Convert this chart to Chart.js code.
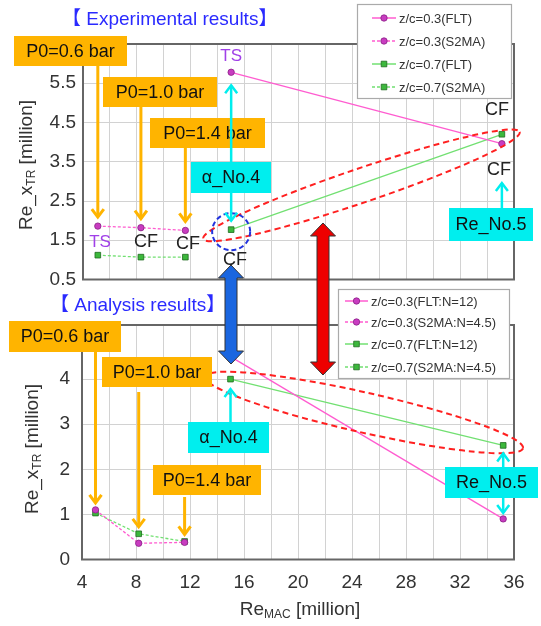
<!DOCTYPE html>
<html lang="en">
<head>
<meta charset="UTF-8">
<title>Re_xTR vs Re_MAC</title>
<script src="https://cdn.jsdelivr.net/npm/chart.js@4.4.0/dist/chart.umd.min.js"></script>
<style>
  body { margin: 0; background: #fff; }
  #wrap { position: relative; width: 541px; height: 626px; }
  canvas { position: absolute; left: 0; top: 0; }
</style>
</head>
<body>
<div id="wrap">
  <canvas id="analysis" width="541" height="626"></canvas>
  <canvas id="experiment" width="541" height="626"></canvas>
</div>
<script>
// experimental results, Re in million
const expX_S2MA = [5.1, 8.3, 11.6];
const expZ03_S2MA = [1.86, 1.82, 1.75];
const expZ07_S2MA = [1.12, 1.07, 1.07];
const expX_FLT = [15.0, 35.1];
const expZ03_FLT = [5.78, 3.96];
const expZ07_FLT = [1.77, 4.20];

// analysis results
const anaX_S2MA = [5.0, 8.2, 11.6];
const anaZ03_S2MA = [1.1, 0.36, 0.38];
const anaZ07_S2MA = [1.03, 0.57, 0.4];
const anaX_FLT = [15.0, 35.2];
const anaZ03_FLT = [4.5, 0.9];
const anaZ07_FLT = [4.0, 2.53];

const expLabels = ['z/c=0.3(FLT)', 'z/c=0.3(S2MA)', 'z/c=0.7(FLT)', 'z/c=0.7(S2MA)'];
const anaLabels = ['z/c=0.3(FLT:N=12)', 'z/c=0.3(S2MA:N=4.5)', 'z/c=0.7(FLT:N=12)', 'z/c=0.7(S2MA:N=4.5)'];

const xTicks = [4, 8, 12, 16, 20, 24, 28, 32, 36];
const expYTicks = [0.5, 1.5, 2.5, 3.5, 4.5, 5.5, 6.5];
const anaYTicks = [0, 1, 2, 3, 4, 5];

const FONT = '"Liberation Sans", Arial, "Noto Sans CJK JP", sans-serif';
const PINK = '#ff5cd0', GREEN = '#72e072';
const ORANGE = '#ffb400', CYAN = '#00eeee';

function series(label, xs, ys, pink, dashed) {
  return {
    label: label,
    data: xs.map((x, i) => ({ x: x, y: ys[i] })),
    showLine: true,
    borderColor: pink ? PINK : GREEN,
    borderWidth: 1.3,
    borderDash: dashed ? [3, 2] : [],
    pointStyle: pink ? 'circle' : 'rect',
    pointRadius: pink ? 3.2 : 4,
    pointBackgroundColor: pink ? '#c83cc0' : '#3cb83c',
    pointBorderColor: pink ? '#8a1f86' : '#1f6a1f',
    pointBorderWidth: 0.8
  };
}

// ---- drawing helpers ----
function box(ctx, x, y, w, h, fill, text) {
  ctx.fillStyle = fill;
  ctx.fillRect(x, y, w, h);
  ctx.fillStyle = '#111';
  ctx.font = '18px ' + FONT;
  ctx.textAlign = 'center';
  ctx.textBaseline = 'middle';
  ctx.fillText(text, x + w / 2, y + h / 2 + 1);
}

function head(ctx, x, y, dir, dx, dy) {
  ctx.beginPath();
  ctx.moveTo(x - dx, y - dir * dy);
  ctx.lineTo(x, y);
  ctx.lineTo(x + dx, y - dir * dy);
  ctx.stroke();
}

// vertical arrow from y1 to y2, head at y2 (and at y1 if both)
function arrow(ctx, x, y1, y2, color, width, both) {
  ctx.save();
  ctx.strokeStyle = color;
  ctx.lineWidth = width;
  ctx.lineCap = 'butt';
  ctx.beginPath();
  ctx.moveTo(x, y1);
  ctx.lineTo(x, y2);
  ctx.stroke();
  const dir = y2 > y1 ? 1 : -1;
  head(ctx, x, y2, dir, 6, 8);
  if (both) head(ctx, x, y1, -dir, 6, 8);
  ctx.restore();
}

function fatArrow(ctx, x, y1, y2, fill) {
  const hw = 12.5, sw = 6, hl = 13;
  ctx.save();
  ctx.beginPath();
  ctx.moveTo(x, y1);
  ctx.lineTo(x + hw, y1 + hl); ctx.lineTo(x + sw, y1 + hl);
  ctx.lineTo(x + sw, y2 - hl); ctx.lineTo(x + hw, y2 - hl);
  ctx.lineTo(x, y2);
  ctx.lineTo(x - hw, y2 - hl); ctx.lineTo(x - sw, y2 - hl);
  ctx.lineTo(x - sw, y1 + hl); ctx.lineTo(x - hw, y1 + hl);
  ctx.closePath();
  ctx.fillStyle = fill;
  ctx.fill();
  ctx.strokeStyle = '#333';
  ctx.lineWidth = 1;
  ctx.stroke();
  ctx.restore();
}

function dashedEllipse(ctx, cx, cy, a, b, rot, color, dash) {
  ctx.save();
  ctx.strokeStyle = color;
  ctx.lineWidth = 2;
  ctx.setLineDash(dash);
  ctx.beginPath();
  ctx.ellipse(cx, cy, a, b, rot, 0, Math.PI * 2);
  ctx.stroke();
  ctx.restore();
}

function label(ctx, text, x, y, color, size) {
  ctx.fillStyle = color;
  ctx.font = size + 'px ' + FONT;
  ctx.textAlign = 'center';
  ctx.textBaseline = 'middle';
  ctx.fillText(text, x, y);
}

// text made of pieces, some of them subscripts: [text, size, yOffset]
function richText(ctx, parts, cx, cy, rot) {
  ctx.save();
  ctx.translate(cx, cy);
  ctx.rotate(rot);
  ctx.fillStyle = '#333';
  ctx.textBaseline = 'middle';
  ctx.textAlign = 'left';
  let total = 0;
  parts.forEach(p => { ctx.font = p[1] + 'px ' + FONT; total += ctx.measureText(p[0]).width; });
  let x = -total / 2;
  parts.forEach(p => {
    ctx.font = p[1] + 'px ' + FONT;
    ctx.fillText(p[0], x, p[2]);
    x += ctx.measureText(p[0]).width;
  });
  ctx.restore();
}

function frame(ctx, area) {
  ctx.save();
  ctx.strokeStyle = '#666';
  ctx.lineWidth = 2;
  ctx.strokeRect(area.left, area.top, area.right - area.left, area.bottom - area.top);
  ctx.restore();
}

function legend(ctx, chart, bx, by, bw, bh, rows, sx0, sx1, tx) {
  ctx.save();
  ctx.fillStyle = '#fff';
  ctx.fillRect(bx, by, bw, bh);
  ctx.strokeStyle = '#aaa';
  ctx.lineWidth = 1.2;
  ctx.strokeRect(bx + 0.5, by + 0.5, bw, bh);
  chart.data.datasets.forEach((ds, i) => {
    const y = rows[i];
    ctx.strokeStyle = ds.borderColor;
    ctx.lineWidth = 1.5;
    ctx.setLineDash(ds.borderDash);
    ctx.beginPath();
    ctx.moveTo(sx0, y);
    ctx.lineTo(sx1, y);
    ctx.stroke();
    ctx.setLineDash([]);
    const mx = (sx0 + sx1) / 2;
    ctx.fillStyle = ds.pointBackgroundColor;
    ctx.strokeStyle = ds.pointBorderColor;
    ctx.lineWidth = 0.8;
    ctx.beginPath();
    if (ds.pointStyle === 'circle') ctx.arc(mx, y, 3.2, 0, Math.PI * 2);
    else ctx.rect(mx - 2.8, y - 2.8, 5.6, 5.6);
    ctx.fill();
    ctx.stroke();
    ctx.fillStyle = '#333';
    ctx.font = '13px ' + FONT;
    ctx.textAlign = 'left';
    ctx.textBaseline = 'middle';
    ctx.fillText(ds.label, tx, y + 1);
  });
  ctx.restore();
}

function scaleOptions(yMin, yMax, yTickList, showX, xHeight, yWidth, yPad) {
  return {
    x: {
      type: 'linear', min: 4, max: 36,
      border: { display: false },
      grid: { color: '#d2d2d2', drawTicks: false },
      ticks: {
        display: showX, stepSize: 2, autoSkip: false, maxRotation: 0,
        padding: 12, color: '#333', font: { family: FONT, size: 19 },
        callback: v => xTicks.includes(v) ? v : ''
      },
      afterFit: s => { s.height = xHeight; }
    },
    y: {
      type: 'linear', min: yMin, max: yMax,
      border: { display: false },
      grid: { color: '#d2d2d2', drawTicks: false },
      ticks: {
        stepSize: 1, autoSkip: false, padding: yPad, color: '#333',
        font: { family: FONT, size: 19 },
        callback: v => {
          const t = yTickList.find(k => Math.abs(k - v) < 1e-6);
          return t === undefined ? '' : (yMin === 0 ? String(t) : t.toFixed(1));
        }
      },
      afterFit: s => { s.width = yWidth; }
    }
  };
}

// ---- analysis chart (lower) ----
const analysisNotes = {
  id: 'analysisNotes',
  afterDraw(chart) {
    const ctx = chart.ctx;
    const xs = chart.scales.x, ys = chart.scales.y;
    frame(ctx, chart.chartArea);

    dashedEllipse(ctx, 364, 412.5, 163, 20, 12.7 * Math.PI / 180, '#ff2020', [6, 4]);

    // pressure boxes and arrows to the S2MA points
    const tipY = i => ys.getPixelForValue(Math.max(anaZ03_S2MA[i], anaZ07_S2MA[i])) - 7;
    arrow(ctx, xs.getPixelForValue(anaX_S2MA[0]), 352, tipY(0), ORANGE, 3);
    arrow(ctx, xs.getPixelForValue(anaX_S2MA[1]), 392, tipY(1), ORANGE, 3);
    arrow(ctx, xs.getPixelForValue(anaX_S2MA[2]), 497, tipY(2), ORANGE, 3);
    box(ctx, 9, 321, 112, 31, ORANGE, 'P0=0.6 bar');
    box(ctx, 102, 357, 110, 30, ORANGE, 'P0=1.0 bar');
    box(ctx, 153, 465, 108, 30, ORANGE, 'P0=1.4 bar');

    const x4 = xs.getPixelForValue(anaX_FLT[0]);
    arrow(ctx, x4, 422, ys.getPixelForValue(anaZ07_FLT[0]) + 10, CYAN, 2.5);
    box(ctx, 188, 422, 81, 31, CYAN, 'α_No.4');

    const x5 = xs.getPixelForValue(anaX_FLT[1]);
    arrow(ctx, x5, ys.getPixelForValue(anaZ07_FLT[1]) + 8, ys.getPixelForValue(anaZ03_FLT[1]) - 6, CYAN, 2.5, true);
    box(ctx, 445, 467, 93, 31, CYAN, 'Re_No.5');

    legend(ctx, chart, 338, 289, 171, 89, [301, 322, 344, 367], 345, 368, 371);

    ctx.fillStyle = '#2a2aff';
    ctx.font = '19px ' + FONT;
    ctx.textAlign = 'left';
    ctx.textBaseline = 'middle';
    ctx.fillText('【 Analysis results】', 50, 306);

    richText(ctx, [['Re_x', 19, 0], ['TR', 12, 5], [' [million]', 19, 0]], 33, 449, -Math.PI / 2);
    richText(ctx, [['Re', 19, 0], ['MAC', 12, 5], [' [million]', 19, 0]], 300, 610, 0);
  }
};

const analysisChart = new Chart(document.getElementById('analysis'), {
  type: 'scatter',
  data: {
    datasets: [
      series(anaLabels[0], anaX_FLT, anaZ03_FLT, true, false),
      series(anaLabels[1], anaX_S2MA, anaZ03_S2MA, true, true),
      series(anaLabels[2], anaX_FLT, anaZ07_FLT, false, false),
      series(anaLabels[3], anaX_S2MA, anaZ07_S2MA, false, true)
    ]
  },
  options: {
    responsive: false,
    animation: false,
    layout: { padding: { left: 0, right: 27, top: 325, bottom: 0 } },
    plugins: { legend: { display: false }, tooltip: { enabled: false } },
    scales: scaleOptions(0, 5.2, anaYTicks, true, 66.5, 82, 12)
  },
  plugins: [analysisNotes]
});

// ---- experimental chart (upper) ----
const experimentNotes = {
  id: 'experimentNotes',
  afterDraw(chart) {
    const ctx = chart.ctx;
    const xs = chart.scales.x, ys = chart.scales.y;
    frame(ctx, chart.chartArea);

    dashedEllipse(ctx, 361.5, 185.4, 167, 17, -18.7 * Math.PI / 180, '#ff2020', [6, 4]);

    const x4 = xs.getPixelForValue(expX_FLT[0]);
    const y4 = ys.getPixelForValue(expZ07_FLT[0]);
    dashedEllipse(ctx, x4, y4 + 2, 19, 18.5, 0, '#2233dd', [5, 3]);

    const tipY = i => ys.getPixelForValue(expZ03_S2MA[i]) - 9;
    arrow(ctx, xs.getPixelForValue(expX_S2MA[0]), 66, tipY(0), ORANGE, 3);
    arrow(ctx, xs.getPixelForValue(expX_S2MA[1]), 107, tipY(1), ORANGE, 3);
    arrow(ctx, xs.getPixelForValue(expX_S2MA[2]), 148, tipY(2), ORANGE, 3);
    box(ctx, 14, 36, 113, 30, ORANGE, 'P0=0.6 bar');
    box(ctx, 103, 77, 114, 30, ORANGE, 'P0=1.0 bar');
    box(ctx, 150, 118, 115, 30, ORANGE, 'P0=1.4 bar');

    arrow(ctx, x4, ys.getPixelForValue(expZ03_FLT[0]) + 13, y4 - 9, CYAN, 2.5, true);
    box(ctx, 191, 162, 80, 31, CYAN, 'α_No.4');

    const x5 = xs.getPixelForValue(expX_FLT[1]);
    arrow(ctx, x5, 208, 183, CYAN, 2.5);
    box(ctx, 449, 208, 84, 33, CYAN, 'Re_No.5');

    // transition type at each point
    label(ctx, 'TS', x4, 56, '#a040e8', 17);
    label(ctx, 'TS', 100, 242, '#a040e8', 17);
    label(ctx, 'CF', 146, 242, '#222', 18);
    label(ctx, 'CF', 188, 244, '#222', 18);
    label(ctx, 'CF', 235, 260, '#222', 18);
    label(ctx, 'CF', 497, 110, '#222', 18);
    label(ctx, 'CF', 499, 170, '#222', 18);

    legend(ctx, chart, 357, 4, 154, 94, [18, 41, 64, 87], 372, 396, 399);

    ctx.fillStyle = '#2a2aff';
    ctx.font = '19px ' + FONT;
    ctx.textAlign = 'left';
    ctx.textBaseline = 'middle';
    ctx.fillText('【 Experimental results】', 62, 20);

    richText(ctx, [['Re_x', 19, 0], ['TR', 12, 5], [' [million]', 19, 0]], 27, 165, -Math.PI / 2);

    // links between the two result sets
    fatArrow(ctx, 231, 265, 364, '#1a66e0');
    fatArrow(ctx, 323, 223, 375, '#ee0000');
  }
};

const experimentChart = new Chart(document.getElementById('experiment'), {
  type: 'scatter',
  data: {
    datasets: [
      series(expLabels[0], expX_FLT, expZ03_FLT, true, false),
      series(expLabels[1], expX_S2MA, expZ03_S2MA, true, true),
      series(expLabels[2], expX_FLT, expZ07_FLT, false, false),
      series(expLabels[3], expX_S2MA, expZ07_S2MA, false, true)
    ]
  },
  options: {
    responsive: false,
    animation: false,
    layout: { padding: { left: 0, right: 27, top: 44, bottom: 0 } },
    plugins: { legend: { display: false }, tooltip: { enabled: false } },
    scales: scaleOptions(0.5, 6.5, expYTicks, false, 346.5, 83, 7)
  },
  plugins: [experimentNotes]
});
</script>
</body>
</html>
